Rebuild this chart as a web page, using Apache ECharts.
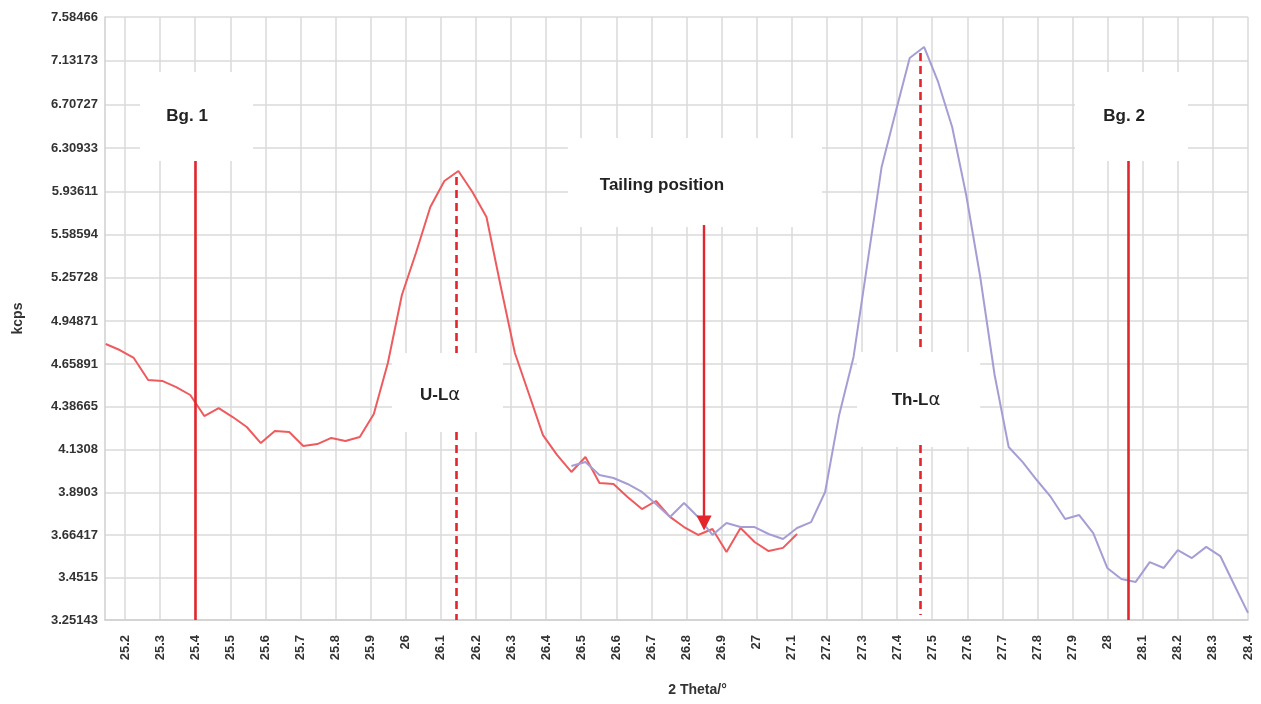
<!DOCTYPE html>
<html>
<head>
<meta charset="utf-8">
<title>U-Lα / Th-Lα scan</title>
<script src="https://cdn.jsdelivr.net/npm/echarts@6/dist/echarts.min.js"></script>
<style>
  html, body { margin: 0; padding: 0; background: #ffffff; }
  #chart { width: 1261px; height: 704px; }
</style>
</head>
<body>
<div id="chart"></div>
<script>
// Tick labels of the intensity axis (kcps) and of the 2θ axis
const yTickLabels = ['3.25143', '3.4515', '3.66417', '3.8903', '4.1308', '4.38665', '4.65891',
  '4.94871', '5.25728', '5.58594', '5.93611', '6.30933', '6.70727', '7.13173', '7.58466'];
const xTickLabels = ['25.2', '25.3', '25.4', '25.5', '25.6', '25.7', '25.8', '25.9', '26',
  '26.1', '26.2', '26.3', '26.4', '26.5', '26.6', '26.7', '26.8', '26.9', '27', '27.1',
  '27.2', '27.3', '27.4', '27.5', '27.6', '27.7', '27.8', '27.9', '28', '28.1', '28.2',
  '28.3', '28.4'];

// U-Lα scan (2θ in degrees, intensity in kcps)
const uAngles = [25.145, 25.185, 25.225, 25.266, 25.306, 25.346, 25.386, 25.426, 25.467, 25.507,
  25.547, 25.587, 25.627, 25.668, 25.708, 25.748, 25.788, 25.828, 25.869, 25.909,
  25.949, 25.989, 26.029, 26.070, 26.110, 26.150, 26.190, 26.230, 26.271, 26.311,
  26.351, 26.391, 26.431, 26.472, 26.512, 26.552, 26.592, 26.632, 26.673, 26.713,
  26.753, 26.793, 26.833, 26.874, 26.914, 26.954, 26.994, 27.034, 27.075, 27.115];
const uCounts = [4.791, 4.751, 4.698, 4.555, 4.549, 4.510, 4.460, 4.330, 4.379, 4.324,
  4.264, 4.169, 4.240, 4.234, 4.152, 4.163, 4.199, 4.181, 4.205, 4.343,
  4.665, 5.133, 5.445, 5.808, 6.024, 6.109, 5.932, 5.727, 5.191, 4.731,
  4.466, 4.216, 4.100, 4.003, 4.088, 3.941, 3.936, 3.865, 3.800, 3.843,
  3.758, 3.705, 3.664, 3.695, 3.577, 3.700, 3.628, 3.582, 3.598, 3.669];

// Th-Lα scan
const thAngles = [26.472, 26.512, 26.552, 26.592, 26.632, 26.673, 26.713, 26.753, 26.793, 26.833,
  26.874, 26.914, 26.954, 26.994, 27.034, 27.075, 27.115, 27.155, 27.195, 27.235,
  27.276, 27.316, 27.356, 27.396, 27.436, 27.477, 27.517, 27.557, 27.597, 27.637,
  27.678, 27.718, 27.758, 27.798, 27.838, 27.879, 27.919, 27.959, 27.999, 28.039,
  28.080, 28.120, 28.160, 28.200, 28.240, 28.281, 28.321, 28.361, 28.400];
const thCounts = [4.037, 4.059, 3.986, 3.969, 3.936, 3.892, 3.827, 3.758, 3.832, 3.758,
  3.664, 3.726, 3.705, 3.705, 3.669, 3.643, 3.700, 3.731, 3.892, 4.337,
  4.705, 5.376, 6.144, 6.637, 7.160, 7.272, 6.923, 6.499, 5.907, 5.264,
  4.587, 4.146, 4.059, 3.958, 3.865, 3.747, 3.768, 3.674, 3.498, 3.444,
  3.430, 3.527, 3.498, 3.587, 3.547, 3.603, 3.557, 3.415, 3.284];

const yTicks = yTickLabels.map(Number);
const xTicks = xTickLabels.map(Number);
const yMin = yTicks[0];
const yMax = yTicks[yTicks.length - 1];

const FONT = "'Liberation Sans', Arial, Helvetica, sans-serif";
const RED = '#e3262c';
const textLabel = { color: '#222', fontFamily: FONT, fontWeight: 'bold', fontSize: 17 };
const alphaStyle = { a: { color: '#222', fontFamily: "'DejaVu Sans', sans-serif", fontSize: 18, fontWeight: 'normal' } };

const solid = { type: 'solid', color: RED, width: 2.6 };
const dashed = { type: [8, 5], color: RED, width: 2.6 };

function seg(x, y0, y1, style, end) {
  return [
    { coord: [x, y0], symbol: 'none', lineStyle: style },
    end ? Object.assign({ coord: [x, y1] }, end) : { coord: [x, y1], symbol: 'none' }
  ];
}

const chart = echarts.init(document.getElementById('chart'), null, { renderer: 'canvas' });

chart.setOption({
  animation: false,
  backgroundColor: '#ffffff',
  grid: { left: 105, right: 13, top: 17, bottom: 84, outerBoundsMode: 'none' },
  xAxis: {
    type: 'value',
    min: 25.143,
    max: 28.4,
    name: '2 Theta/°',
    nameLocation: 'middle',
    nameGap: 63,
    nameTextStyle: { color: '#333', fontFamily: FONT, fontWeight: 'bold', fontSize: 14, padding: [0, 0, 0, 42] },
    axisLine: { show: true, lineStyle: { color: '#cfcfcf', width: 1.5 } },
    axisTick: { show: false, customValues: xTicks },
    axisLabel: {
      customValues: xTicks,
      rotate: 90,
      margin: 15,
      color: '#333',
      fontFamily: FONT,
      fontWeight: 'bold',
      fontSize: 13,
      formatter: v => String(Math.round(v * 10) / 10)
    },
    splitLine: { show: true, lineStyle: { color: '#dadada', width: 1.5 } }
  },
  yAxis: {
    type: 'log',
    min: yMin,
    max: yMax,
    name: 'kcps',
    nameLocation: 'middle',
    nameGap: 80,
    nameTextStyle: { color: '#333', fontFamily: FONT, fontWeight: 'bold', fontSize: 14 },
    axisLine: { show: true, lineStyle: { color: '#cfcfcf', width: 1.5 } },
    axisTick: { show: false, customValues: yTicks },
    axisLabel: {
      customValues: yTicks,
      margin: 7,
      color: '#333',
      fontFamily: FONT,
      fontWeight: 'bold',
      fontSize: 13,
      formatter: v => {
        const hit = yTickLabels.find(s => Math.abs(Number(s) - v) < 1e-4);
        return hit || '';
      }
    },
    splitLine: { show: true, lineStyle: { color: '#dadada', width: 1.5 } }
  },
  series: [
    {
      name: 'U-Lα',
      type: 'line',
      data: uAngles.map((a, i) => [a, uCounts[i]]),
      symbol: 'none',
      smooth: false,
      lineStyle: { color: '#ee5b5e', width: 2 },
      z: 3,
      silent: true,
      // white boxes behind the annotation texts
      markArea: {
        silent: true,
        itemStyle: { color: '#ffffff', opacity: 1 },
        label: { show: false },
        data: [
          [{ coord: [25.243, 7.0206] }, { coord: [25.565, 6.1957] }],
          [{ coord: [25.961, 4.7310] }, { coord: [26.277, 4.2341] }],
          [{ coord: [26.462, 6.3991] }, { coord: [27.186, 5.6471] }],
          [{ coord: [27.286, 4.7377] }, { coord: [27.637, 4.1459] }],
          [{ coord: [27.907, 7.0206] }, { coord: [28.229, 6.1957] }]
        ]
      },
      // background positions, peak positions and tailing position
      markLine: {
        silent: true,
        symbol: ['none', 'none'],
        label: { show: false },
        emphasis: { disabled: true },
        data: [
          [{ yAxis: yMax, symbol: 'none', lineStyle: { type: 'solid', color: '#f1c9c9', width: 1.5 } }, { yAxis: yMax, symbol: 'none' }],
          seg(25.4, 6.1957, yMin, solid),
          seg(28.06, 6.1957, yMin, solid),
          seg(26.145, 6.0579, 4.7310, dashed),
          seg(26.145, 4.2341, yMin, dashed),
          seg(27.466, 7.2105, 4.7377, dashed),
          seg(27.466, 4.1575, 3.2744, dashed),
          seg(26.85, 5.6630, 3.7261, { type: 'solid', color: RED, width: 2.4 },
            { symbol: 'triangle', symbolSize: [15, 15], itemStyle: { color: RED } })
        ]
      },
      markPoint: {
        silent: true,
        symbol: 'circle',
        symbolSize: 1,
        itemStyle: { color: 'rgba(0,0,0,0)' },
        label: Object.assign({ show: true, position: 'inside', formatter: p => p.name }, textLabel),
        data: [
          { name: 'Bg. 1', coord: [25.377, 6.5997] },
          { name: 'U-Lα', coord: [26.098, 4.4600],
            label: { formatter: 'U-L{a|α}', rich: alphaStyle } },
          { name: 'Tailing position', coord: [26.730, 5.9903] },
          { name: 'Th-Lα', coord: [27.454, 4.4288],
            label: { formatter: 'Th-L{a|α}', rich: alphaStyle } },
          { name: 'Bg. 2', coord: [28.047, 6.5997] }
        ]
      }
    },
    {
      name: 'Th-Lα',
      type: 'line',
      data: thAngles.map((a, i) => [a, thCounts[i]]),
      symbol: 'none',
      smooth: false,
      lineStyle: { color: '#a69dd4', width: 2 },
      z: 3,
      silent: true
    }
  ]
});
</script>
</body>
</html>
